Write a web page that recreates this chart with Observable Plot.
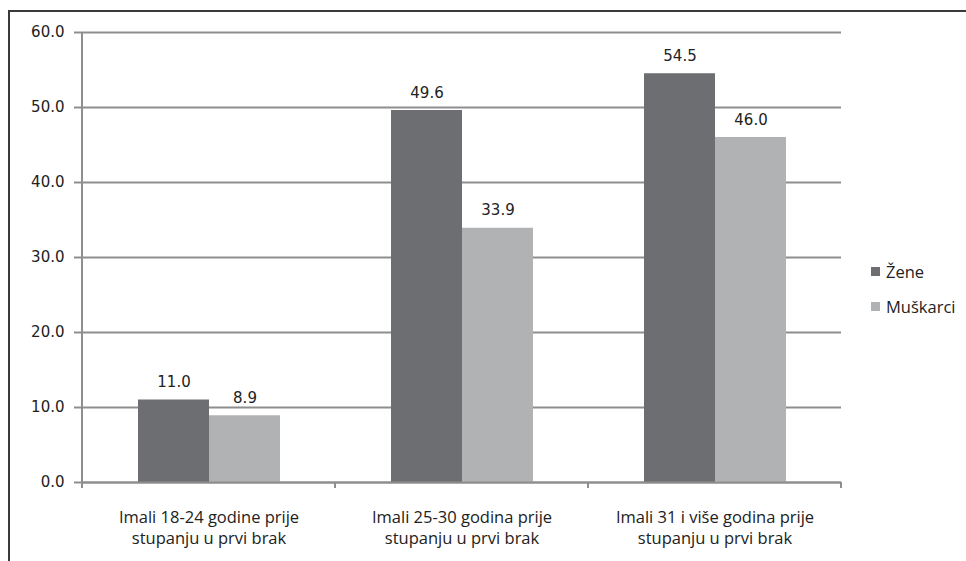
<!DOCTYPE html>
<html>
<head>
<meta charset="utf-8">
<script src="https://cdn.jsdelivr.net/npm/d3@7"></script>
<script src="https://cdn.jsdelivr.net/npm/@observablehq/plot@0.6"></script>
<style>
  html, body { margin: 0; padding: 0; background: #fff; }
  #wrap { position: relative; width: 966px; height: 561px; overflow: hidden; }
  #border { position: absolute; left: 8px; top: 10px; width: 1000px; height: 600px;
            border-left: 2px solid #3a3a3a; border-top: 2px solid #3a3a3a; box-sizing: border-box; }
  #legend { position: absolute; left: 871px; top: 259px; font-family: "Open Sans", sans-serif; font-size: 16.5px; color: #222; }
  .li { display: flex; align-items: center; height: 24px; margin-bottom: 11px; }
  .sw { width: 9px; height: 9px; margin-right: 6px; }
  svg { position: absolute; left: 0; top: 0; }
</style>
</head>
<body>
<div id="wrap">
  <div id="border"></div>
  <div id="chart"></div>
  <div id="legend"></div>
</div>
<script>
const categories = [
  "Imali 18-24 godine prije stupanju u prvi brak",
  "Imali 25-30 godina prije stupanju u prvi brak",
  "Imali 31 i više godina prije stupanju u prvi brak"
];
const categoryLabels = [
  "Imali 18-24 godine prije\nstupanju u prvi brak",
  "Imali 25-30 godina prije\nstupanju u prvi brak",
  "Imali 31 i više godina prije\nstupanju u prvi brak"
];
const series = ["Žene", "Muškarci"];
const zene = [11.0, 49.6, 54.5];
const muskarci = [8.9, 33.9, 46.0];
const yTicks = [0, 10, 20, 30, 40, 50, 60];
const colors = ["#6d6e71", "#b1b2b4"];

const rows = [];
categories.forEach((c, i) => {
  rows.push({category: c, series: series[0], value: zene[i]});
  rows.push({category: c, series: series[1], value: muskarci[i]});
});
const labelOf = new Map(categories.map((c, i) => [c, categoryLabels[i]]));
const gridColor = "#8e8e8e";
const numFont = "DejaVu Sans";

const plot = Plot.plot({
  width: 966,
  height: 561,
  marginLeft: 81,
  marginRight: 124,
  marginTop: 32,
  marginBottom: 79,
  style: {fontFamily: numFont, fontSize: "15px", color: "#222", background: "transparent"},
  fx: {domain: categories, padding: 0, label: null},
  x: {domain: series, paddingInner: 0, paddingOuter: 0.76, axis: null},
  y: {domain: [0, 60], label: null},
  color: {domain: series, range: colors},
  marks: [
    Plot.gridY({ticks: yTicks, stroke: gridColor, strokeOpacity: 1, strokeWidth: 2}),
    Plot.axisY({ticks: yTicks, tickSize: 8, tickPadding: 10, tickFormat: d3.format(".1f"),
                stroke: gridColor, strokeWidth: 2, label: null, fontSize: 15, fontFamily: numFont, fill: "#222"}),
    Plot.barY(rows, {fx: "category", x: "series", y: "value", fill: "series"}),
    Plot.ruleY([0], {stroke: gridColor, strokeWidth: 2}),
    Plot.text(rows, {fx: "category", x: "series", y: "value", text: d => d3.format(".1f")(d.value),
                     lineAnchor: "bottom", dy: -13, fontSize: 15, fontFamily: numFont, fill: "#222"}),
    Plot.axisFx({anchor: "bottom", tickSize: 0, tickPadding: 26, label: null,
                 tickFormat: d => labelOf.get(d), fontSize: 16.5, lineHeight: 1.27,
                 fontFamily: "Open Sans", fill: "#222"})
  ]
});
document.getElementById("chart").appendChild(plot);

// y-axis line and category boundary ticks, positioned through Plot's scales
const fx = plot.scale("fx");
const y = plot.scale("y");
const svg = d3.select(plot);
const y0 = y.apply(0), yTop = y.apply(d3.max(yTicks));
const edges = categories.map(c => fx.apply(c)).concat([fx.apply(categories[categories.length - 1]) + fx.bandwidth]);
svg.append("line").attr("x1", edges[0]).attr("x2", edges[0]).attr("y1", yTop).attr("y2", y0)
  .attr("stroke", gridColor).attr("stroke-width", 2);
svg.selectAll("line.edge").data(edges).join("line").attr("class", "edge")
  .attr("x1", d => d).attr("x2", d => d).attr("y1", y0).attr("y2", y0 + 6)
  .attr("stroke", gridColor).attr("stroke-width", 2);

// legend
const legend = d3.select("#legend");
series.forEach((s, i) => {
  const item = legend.append("div").attr("class", "li");
  item.append("div").attr("class", "sw").style("background", colors[i]);
  item.append("span").text(s);
});
</script>
</body>
</html>
